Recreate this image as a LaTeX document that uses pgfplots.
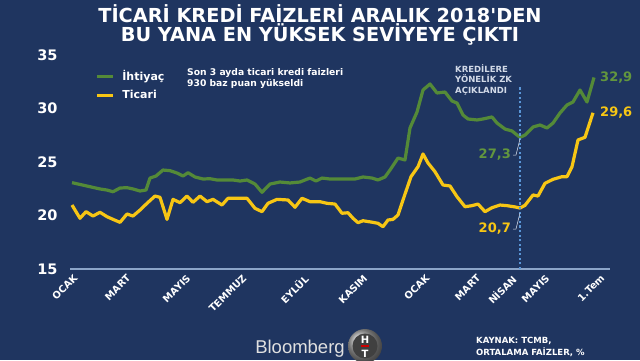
\documentclass[border=0pt]{standalone}
\usepackage{fontspec}
\setmainfont{DejaVu Sans}
\newfontfamily\titlefont{DejaVu Sans}[Ligatures=TeXOff]
\newfontfamily\bbfont{Liberation Sans}
\usepackage{pgfplots}
\pgfplotsset{compat=1.18}
\definecolor{bgblue}{RGB}{31,53,96}
\definecolor{lgreen}{RGB}{84,138,56}
\definecolor{lyellow}{RGB}{247,198,20}
\definecolor{tgreen}{RGB}{98,150,62}
\definecolor{axgray}{RGB}{140,165,200}
\definecolor{dotblue}{RGB}{90,150,215}
\definecolor{notegray}{RGB}{210,218,232}
\begin{document}
\begin{tikzpicture}[x=1pt,y=1pt]
\useasboundingbox (0,0) rectangle (640,360);
\fill[bgblue] (0,0) rectangle (640,360);
\node[text=white, align=center, font=\fontsize{19.3}{19.5}\selectfont\titlefont\bfseries] at (320,335)
  {TİCARİ KREDİ FAİZLERİ ARALIK 2018'DEN\\BU YANA EN YÜKSEK SEVİYEYE ÇIKTI};
\begin{axis}[
  at={(70pt,91pt)}, anchor=south west,
  width=540pt, height=214pt, scale only axis,
  xmin=70, xmax=610, ymin=15, ymax=35,
  clip=false,
  axis line style={draw=none},
  major tick length=0pt,
  ytick={15,20,25,30,35},
  yticklabel style={font=\fontsize{14.5}{15}\selectfont\bfseries, text=white, xshift=-9pt},
  /pgf/number format/assume math mode=true,
  xtick={73,126,186,242,303,363,425,476,511,545,600},
  xticklabels={OCAK,MART,MAYIS,TEMMUZ,EYLÜL,KASIM,OCAK,MART,NİSAN,MAYIS,1.Tem},
  xticklabel style={rotate=45, anchor=north east, font=\fontsize{9.8}{10}\selectfont\bfseries, text=white},
  legend style={at={(axis cs:95,33.75)}, anchor=north west, draw=none, fill=none,
    font=\fontsize{11}{12}\selectfont\bfseries, text=white, row sep=4pt, inner sep=0pt},
  legend cell align=left,
  legend image code/.code={\draw[#1] (0pt,0pt) -- (16pt,0pt); \path (22pt,0pt);},
]
\draw[axgray, line width=1.6pt] (rel axis cs:0,0) -- (rel axis cs:1,0);
\addplot[lgreen, line width=3.2pt, line join=round] table {
x y
72 23.07
90 22.69
100 22.48
107 22.38
113 22.22
120 22.57
127 22.60
133 22.48
140 22.29
146 22.38
150 23.50
156 23.69
163 24.25
170 24.19
177 23.97
183 23.69
188 24.00
195 23.60
203 23.41
210 23.44
217 23.32
225 23.32
233 23.32
240 23.22
247 23.32
255 22.94
262 22.17
270 22.94
280 23.13
290 23.04
300 23.13
305 23.32
310 23.50
316 23.22
322 23.50
330 23.41
340 23.41
355 23.41
363 23.60
372 23.50
378 23.32
385 23.60
390 24.25
398 25.37
405 25.19
410 28.18
417 29.67
423 31.73
430 32.29
437 31.45
445 31.54
452 30.70
457 30.51
463 29.39
468 29.02
477 28.93
483 29.02
492 29.21
497 28.64
505 28.08
512 27.90
520 27.30
525 27.52
533 28.27
540 28.46
547 28.18
553 28.64
560 29.58
567 30.33
573 30.61
580 31.73
587 30.61
594 32.90
};
\addlegendentry{İhtiyaç}
\addplot[lyellow, line width=3.2pt, line join=round] table {
x y
72 20.98
80 19.74
86 20.36
93 19.95
100 20.30
107 19.89
113 19.64
120 19.36
127 20.14
133 19.95
140 20.51
147 21.14
155 21.82
160 21.70
167 19.64
173 21.51
180 21.20
187 21.82
193 21.23
200 21.82
207 21.29
213 21.51
222 20.98
228 21.61
240 21.61
247 21.61
255 20.67
262 20.36
268 21.14
277 21.51
288 21.45
295 20.77
302 21.61
310 21.29
320 21.29
327 21.14
335 21.07
342 20.21
348 20.26
353 19.74
358 19.33
363 19.51
373 19.36
378 19.27
383 18.95
388 19.58
393 19.64
398 20.05
403 21.45
411 23.63
418 24.56
423 25.75
428 24.91
435 24.09
443 22.85
450 22.76
457 21.76
465 20.82
472 20.92
478 21.07
485 20.36
492 20.73
500 20.98
507 20.92
515 20.80
520 20.70
525 20.95
533 21.92
538 21.82
545 23.01
553 23.38
562 23.63
567 23.63
572 24.56
578 27.06
585 27.31
593 29.60
};
\addlegendentry{Ticari}
\addplot[dotblue, line width=2.2pt, dash pattern=on 2.2pt off 2.4pt, forget plot] coordinates {(520,15) (520,32.0)};
\end{axis}
% annotations
\node[anchor=north west, align=left, text=white, font=\fontsize{9.2}{11}\selectfont\bfseries, inner sep=0pt] at (187,292)
  {Son 3 ayda ticari kredi faizleri\\930 baz puan yükseldi};
\node[anchor=north west, align=left, text=notegray, font=\fontsize{8.5}{10.5}\selectfont\bfseries, inner sep=0pt] at (455,296)
  {KREDİLERE\\YÖNELİK ZK\\AÇIKLANDI};
\node[anchor=west, text=tgreen, font=\fontsize{13}{14}\selectfont\bfseries, inner sep=0pt] at (600,282) {32,9};
\node[anchor=west, text=lyellow, font=\fontsize{13}{14}\selectfont\bfseries, inner sep=0pt] at (600,247) {29,6};
\node[anchor=east, text=tgreen, font=\fontsize{13}{14}\selectfont\bfseries, inner sep=0pt] at (511,205) {27,3};
\node[anchor=east, text=lyellow, font=\fontsize{13}{14}\selectfont\bfseries, inner sep=0pt] at (511,131) {20,7};
\draw[notegray!80, line width=0.5pt] (513,205) -- (516,205) -- (520,221);
\draw[notegray!80, line width=0.5pt] (513,131) -- (516,131) -- (520,147);
% footer
\node[text=white!88!black, font=\fontsize{18.5}{19}\selectfont\bbfont, inner sep=0pt] at (300,11) {Bloomberg};
\shade[ball color=gray!70] (365,14) circle (17);
\fill[black!75] (365,14) circle (12.5);
\node[text=white, font=\fontsize{10}{10}\selectfont\bfseries, inner sep=0pt] at (365,20) {H};
\fill[red!80!black] (361,13) rectangle (369,15);
\node[text=white, font=\fontsize{10}{10}\selectfont\bfseries, inner sep=0pt] at (365,6) {T};
\node[anchor=north west, align=left, text=white, font=\fontsize{8.5}{12}\selectfont\bfseries, inner sep=0pt] at (476,23)
  {KAYNAK: TCMB,\\ORTALAMA FAİZLER, \%};
\end{tikzpicture}
\end{document}
